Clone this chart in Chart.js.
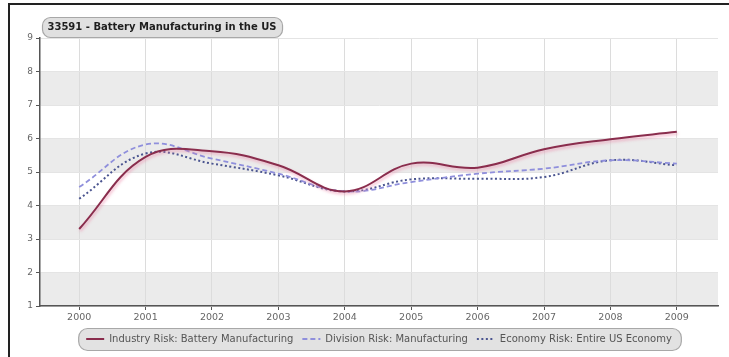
<!DOCTYPE html>
<html>
<head>
<meta charset="utf-8">
<script src="https://cdn.jsdelivr.net/npm/chart.js@4.4.1/dist/chart.umd.min.js"></script>
<style>
  html, body { margin: 0; padding: 0; background: #fff; }
  #wrap { position: relative; width: 729px; height: 357px; overflow: hidden; }
  #frame { position: absolute; left: 8px; top: 3px; width: 800px; height: 400px;
           border-top: 2px solid #222; border-left: 2px solid #222; pointer-events: none; }
  canvas { position: absolute; left: 0; top: 0; }
</style>
</head>
<body>
<div id="wrap">
  <canvas id="riskChart" width="729" height="357"></canvas>
  <div id="frame"></div>
</div>
<script>
const chartTitle = '33591 - Battery Manufacturing in the US';
const years = ['2000', '2001', '2002', '2003', '2004', '2005', '2006', '2007', '2008', '2009'];
const industryRisk = [3.3, 5.45, 5.62, 5.2, 4.42, 5.25, 5.13, 5.68, 5.98, 6.2];
const divisionRisk = [4.55, 5.82, 5.4, 4.95, 4.42, 4.7, 4.95, 5.1, 5.35, 5.25];
const economyRisk = [4.2, 5.55, 5.25, 4.9, 4.42, 4.78, 4.8, 4.85, 5.35, 5.2];
const yTicks = [1, 2, 3, 4, 5, 6, 7, 8, 9];
const greyBands = [[1, 2], [3, 4], [5, 6], [7, 8]];

const toPoints = arr => arr.map((v, i) => ({ x: i, y: v }));

function roundRect(ctx, x, y, w, h, r) {
    ctx.beginPath();
    ctx.moveTo(x + r, y);
    ctx.arcTo(x + w, y, x + w, y + h, r);
    ctx.arcTo(x + w, y + h, x, y + h, r);
    ctx.arcTo(x, y + h, x, y, r);
    ctx.arcTo(x, y, x + w, y, r);
    ctx.closePath();
}

// grey horizontal bands behind the grid
const bandsPlugin = {
    id: 'bands',
    beforeDraw(chart) {
        const { ctx, chartArea, scales } = chart;
        ctx.save();
        ctx.fillStyle = '#ebebeb';
        greyBands.forEach(([lo, hi]) => {
            const top = scales.y.getPixelForValue(hi);
            const bottom = scales.y.getPixelForValue(lo);
            ctx.fillRect(chartArea.left, top, chartArea.right - chartArea.left, bottom - top);
        });
        ctx.restore();
    }
};

// pink glow under the industry line
const glowPlugin = {
    id: 'glow',
    beforeDatasetDraw(chart, args) {
        if (args.index === 0) {
            const ctx = chart.ctx;
            ctx.save();
            ctx.shadowColor = 'rgba(235, 130, 165, 0.6)';
            ctx.shadowBlur = 3;
            ctx.shadowOffsetX = 1;
            ctx.shadowOffsetY = 2;
        }
    },
    afterDatasetDraw(chart, args) {
        if (args.index === 0) chart.ctx.restore();
    }
};

// rounded boxes for title and legend
const boxesPlugin = {
    id: 'boxes',
    beforeDraw(chart) {
        const ctx = chart.ctx;
        const legend = chart.legend;
        ctx.save();
        if (legend && legend.legendHitBoxes.length) {
            const hb = legend.legendHitBoxes;
            const first = hb[0], last = hb[hb.length - 1];
            const x = first.left - 8, w = last.left + last.width + 9 - x;
            const cy = first.top + first.height / 2;
            roundRect(ctx, x + 0.5, cy - 11 + 0.5, w, 22, 9);
            ctx.fillStyle = '#e2e2e2';
            ctx.fill();
            ctx.strokeStyle = '#a8a8a8';
            ctx.lineWidth = 1.2;
            ctx.stroke();
        }
        ctx.restore();
    },
    afterDraw(chart) {
        const ctx = chart.ctx;
        ctx.save();
        ctx.font = 'bold 10px "DejaVu Sans"';
        const tw = ctx.measureText(chartTitle).width;
        const x = chart.chartArea.left + 2;
        roundRect(ctx, x + 0.5, 17.5, tw + 11, 20, 8);
        ctx.fillStyle = '#e0e0e0';
        ctx.fill();
        ctx.strokeStyle = '#a8a8a8';
        ctx.lineWidth = 1.2;
        ctx.stroke();
        ctx.fillStyle = '#1e1e1e';
        ctx.textBaseline = 'middle';
        ctx.fillText(chartTitle, x + 5.5, 27.5);
        ctx.restore();
    }
};

Chart.defaults.font.family = '"DejaVu Sans", Verdana, sans-serif';

new Chart(document.getElementById('riskChart').getContext('2d'), {
    type: 'line',
    data: {
        datasets: [{
            label: 'Industry Risk: Battery Manufacturing',
            data: toPoints(industryRisk),
            borderColor: '#8a2d4d',
            borderWidth: 2,
            pointRadius: 0,
            tension: 0.4
        }, {
            label: 'Division Risk: Manufacturing',
            data: toPoints(divisionRisk),
            borderColor: '#8f8fdc',
            borderWidth: 1.8,
            borderDash: [5, 3],
            pointRadius: 0,
            tension: 0.4
        }, {
            label: 'Economy Risk: Entire US Economy',
            data: toPoints(economyRisk),
            borderColor: '#4b5590',
            borderWidth: 2,
            borderDash: [2, 2.5],
            pointRadius: 0,
            tension: 0.4
        }]
    },
    options: {
        responsive: false,
        animation: false,
        layout: { padding: { top: 38, right: 11, left: 0, bottom: 3 } },
        scales: {
            x: {
                type: 'linear',
                min: -0.59,
                max: 9.62,
                afterBuildTicks: scale => { scale.ticks = years.map((_, i) => ({ value: i })); },
                afterFit: scale => { scale.height = 19; },
                ticks: {
                    callback: value => years[value],
                    color: '#666',
                    font: { size: 9.5 },
                    padding: 2,
                    maxRotation: 0
                },
                grid: { color: '#dcdcdc', tickLength: 4, tickColor: '#555' },
                border: { color: '#555', width: 1.5 }
            },
            y: {
                min: 1,
                max: 9,
                afterBuildTicks: scale => { scale.ticks = yTicks.map(v => ({ value: v })); },
                afterFit: scale => { scale.width = 40; },
                ticks: { color: '#666', font: { size: 9 }, padding: 3 },
                grid: { color: '#e4e4e4', tickLength: 4, tickColor: '#555' },
                border: { color: '#555', width: 1.5 }
            }
        },
        plugins: {
            legend: {
                position: 'bottom',
                fullSize: false,
                labels: {
                    usePointStyle: true,
                    pointStyle: 'line',
                    pointStyleWidth: 18,
                    color: '#555',
                    font: { size: 10 },
                    padding: 9,
                    generateLabels: chart => {
                        const items = Chart.defaults.plugins.legend.labels.generateLabels(chart);
                        items.forEach(item => {
                            const ds = chart.data.datasets[item.datasetIndex];
                            item.lineDash = ds.borderDash || [];
                            item.lineWidth = ds.borderWidth;
                            item.strokeStyle = ds.borderColor;
                        });
                        return items;
                    }
                }
            },
            tooltip: { enabled: false }
        }
    },
    plugins: [bandsPlugin, glowPlugin, boxesPlugin]
});
</script>
</body>
</html>
